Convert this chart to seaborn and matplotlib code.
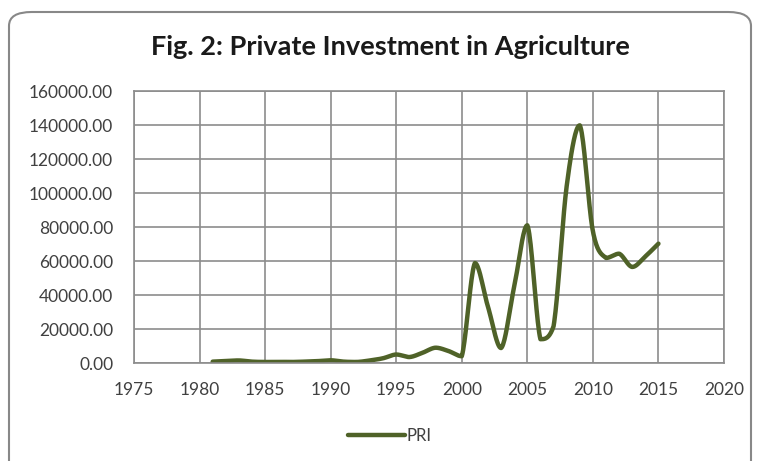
import numpy as np
import pandas as pd
import seaborn as sns
import matplotlib
matplotlib.use("Agg")
import matplotlib.pyplot as plt
from matplotlib.patches import FancyBboxPatch

years = list(range(1981, 2016))
pri = [800, 1200, 1500, 800, 600, 700, 600, 800, 1100, 1600,
       800, 600, 1500, 2800, 5000, 3500, 6000, 9000, 7000, 4000,
       58800, 33000, 8800, 45000, 81000, 14000, 21600, 104000, 139800, 77500,
       61800, 64300, 56500, 62700, 70200]
series_name = "PRI"
title = "Fig. 2: Private Investment in Agriculture"
x_ticks = list(range(1975, 2021, 5))
y_ticks = list(range(0, 160001, 20000))

LINE = "#4F6228"
GRID = "#8c8c8c"
TXT = "#404040"


def smooth(xv, yv, n=20):
    # Bezier smoothing like spreadsheet "smoothed line", control points
    # clamped to each segment's range so the curve does not overshoot
    xv = np.asarray(xv, float)
    yv = np.asarray(yv, float)
    px = np.concatenate([[xv[0]], xv, [xv[-1]]])
    py = np.concatenate([[yv[0]], yv, [yv[-1]]])
    ox, oy = [], []
    for i in range(1, len(px) - 2):
        p0x, p1x, p2x, p3x = px[i - 1], px[i], px[i + 1], px[i + 2]
        p0y, p1y, p2y, p3y = py[i - 1], py[i], py[i + 1], py[i + 2]
        lo, hi = min(p1y, p2y), max(p1y, p2y)
        c1x = p1x + (p2x - p0x) / 6
        c1y = np.clip(p1y + (p2y - p0y) / 6, lo, hi)
        c2x = p2x - (p3x - p1x) / 6
        c2y = np.clip(p2y - (p3y - p1y) / 6, lo, hi)
        t = np.linspace(0, 1, n, endpoint=False)
        b = [(1 - t) ** 3, 3 * (1 - t) ** 2 * t, 3 * (1 - t) * t ** 2, t ** 3]
        ox.extend(b[0] * p1x + b[1] * c1x + b[2] * c2x + b[3] * p2x)
        oy.extend(b[0] * p1y + b[1] * c1y + b[2] * c2y + b[3] * p2y)
    ox.append(xv[-1])
    oy.append(yv[-1])
    return np.array(ox), np.array(oy)


sx, sy = smooth(years, pri)
df = pd.DataFrame({"year": sx, "value": sy, "series": series_name})

sns.set_theme(style="white")
plt.rcParams["font.family"] = ["Lato", "DejaVu Sans"]

fig = plt.figure(figsize=(7.57, 4.61), dpi=100)
fig.patch.set_facecolor("white")

border = FancyBboxPatch((9 / 757, -0.05), 742 / 757, 1 - 12 / 461 + 0.05,
                        boxstyle="round,pad=0,rounding_size=0.03",
                        transform=fig.transFigure, facecolor="none",
                        edgecolor="#888888", linewidth=1.5, zorder=-1)
fig.patches.append(border)

ax = fig.add_axes([134 / 757, 1 - 363 / 461, 590 / 757, 272 / 461])
ax.set_facecolor("white")
sns.lineplot(data=df, x="year", y="value", hue="series", palette=[LINE],
             linewidth=3.2, ax=ax, sort=False, estimator=None)

ax.set_xlim(1975, 2020)
ax.set_ylim(0, 160000)
ax.set_xticks(x_ticks)
ax.set_yticks(y_ticks)
ax.set_xticklabels([str(v) for v in x_ticks])
ax.set_yticklabels([f"{v:.2f}" for v in y_ticks])
ax.tick_params(axis="both", labelsize=12.5, colors=TXT, length=0)
ax.tick_params(axis="y", pad=15)
ax.tick_params(axis="x", pad=14)
ax.grid(True, color=GRID, linewidth=1.2)
ax.set_axisbelow(True)
for s in ax.spines.values():
    s.set_color(GRID)
    s.set_linewidth(1.2)
ax.set_xlabel("")
ax.set_ylabel("")

fig.text(390 / 757, 1 - 47 / 461, title, ha="center", va="center",
         fontsize=19.5, fontweight="bold", color="#1a1a1a")

leg = ax.legend(loc="center", bbox_to_anchor=(390 / 757, 1 - 436 / 461),
                bbox_transform=fig.transFigure, frameon=False, fontsize=12,
                handlelength=3.4, handletextpad=0.1)
for t in leg.get_texts():
    t.set_color(TXT)

fig.savefig("out.png", dpi=100, facecolor="white")
